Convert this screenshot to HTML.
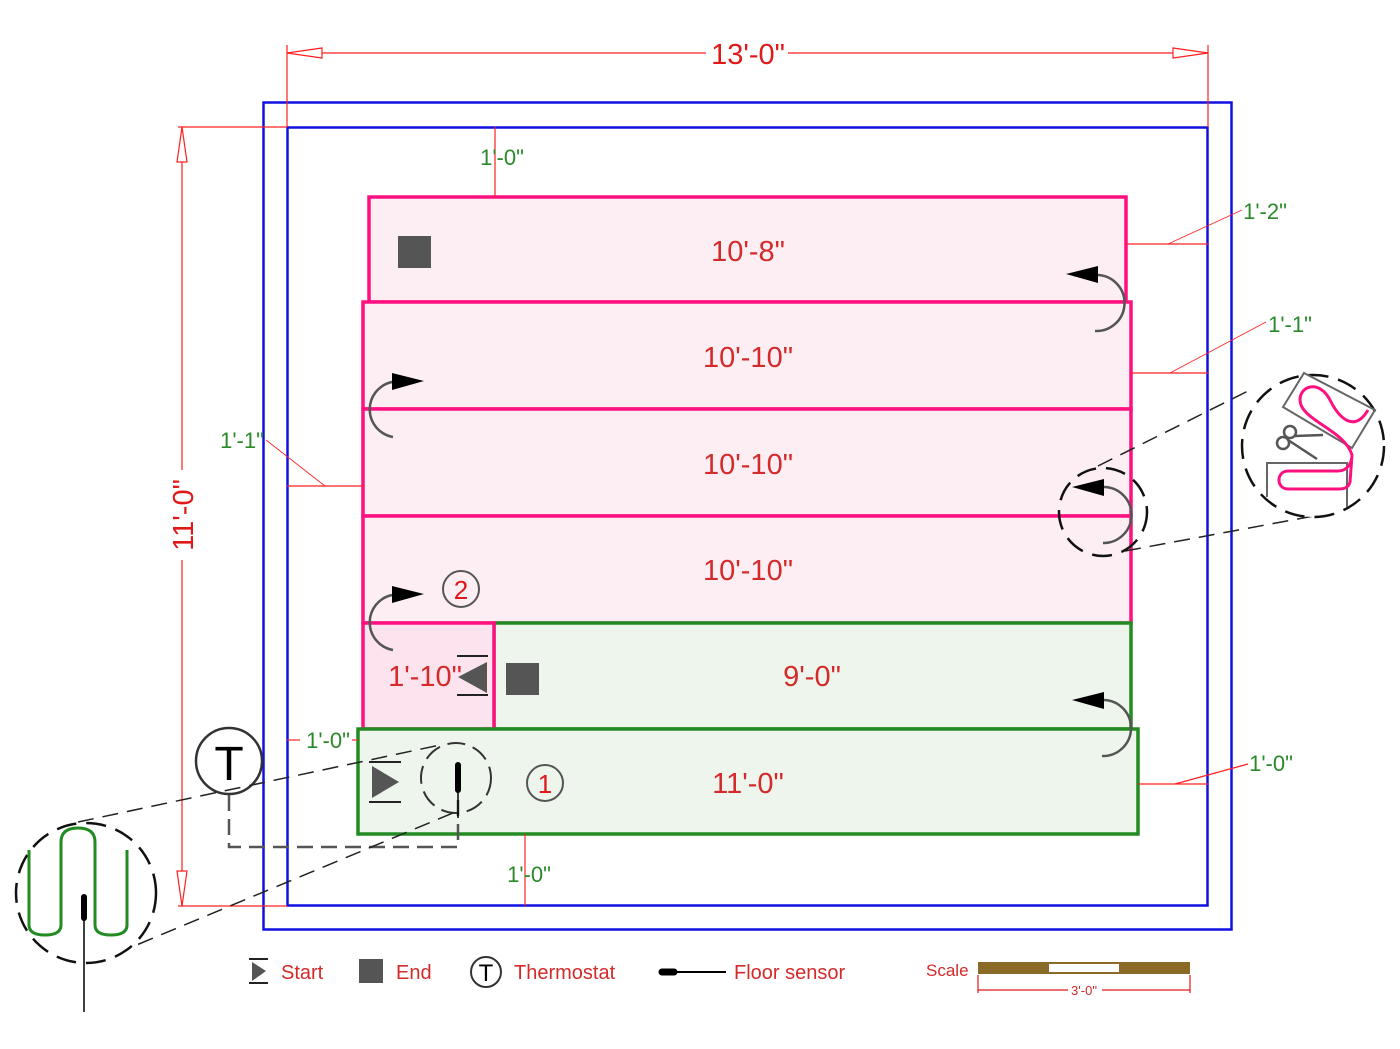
<!DOCTYPE html>
<html><head><meta charset="utf-8"><style>
html,body{margin:0;padding:0;background:#fff;}
svg{display:block;}
text{font-family:"Liberation Sans",Arial,sans-serif;}
</style></head><body>
<svg width="1400" height="1049" viewBox="0 0 1400 1049" xmlns="http://www.w3.org/2000/svg">
<rect width="1400" height="1049" fill="#fff"/>
<rect x="263.5" y="102.5" width="968" height="827" fill="none" stroke="#1010e0" stroke-width="2.5"/>
<rect x="287.5" y="127.5" width="920" height="778" fill="none" stroke="#1010e0" stroke-width="2.5"/>

<g stroke="#ff1080" stroke-width="3.5" fill="#fdeef4">
<rect x="369" y="197" width="757" height="105"/>
<rect x="363" y="302" width="768" height="107"/>
<rect x="363" y="409" width="768" height="107"/>
<rect x="363" y="516" width="768" height="107"/>
</g>
<rect x="494" y="623" width="637" height="106" fill="#eef5ec" stroke="#228b22" stroke-width="3.5"/>
<rect x="363" y="623" width="131" height="106" fill="#fde3ee" stroke="#ff1080" stroke-width="3.5"/>
<rect x="358" y="729" width="780" height="105" fill="#eef5ec" stroke="#228b22" stroke-width="3.5"/>

<g stroke="#ff2020" stroke-width="1.2" fill="none">
<line x1="287" y1="53" x2="1208" y2="53"/>
<line x1="287" y1="45" x2="287" y2="127"/>
<line x1="1208" y1="45" x2="1208" y2="127"/>
<polygon points="287,53 322,48 322,58" fill="#fff"/>
<polygon points="1208,53 1173,48 1173,58" fill="#fff"/>
<line x1="182" y1="127" x2="182" y2="906"/>
<line x1="178" y1="127" x2="287" y2="127"/>
<line x1="178" y1="906" x2="287" y2="906"/>
<polygon points="182,127 177,162 187,162" fill="#fff"/>
<polygon points="182,906 177,871 187,871" fill="#fff"/>
<line x1="495" y1="127" x2="495" y2="197"/>
<line x1="1126" y1="244" x2="1208" y2="244"/>
<line x1="1168" y1="244" x2="1242" y2="210" stroke-width="0.8"/>
<line x1="1131" y1="373" x2="1208" y2="373"/>
<line x1="1170" y1="373" x2="1266" y2="322" stroke-width="0.8"/>
<line x1="287" y1="486" x2="363" y2="486"/>
<line x1="325" y1="486" x2="266" y2="440" stroke-width="0.8"/>
<line x1="287" y1="740" x2="300" y2="740"/>
<line x1="352" y1="740" x2="358" y2="740"/>
<line x1="1138" y1="784" x2="1208" y2="784"/>
<line x1="1175" y1="784" x2="1248" y2="764"/>
<line x1="525" y1="834" x2="525" y2="906"/>
</g>
<rect x="706" y="38" width="82" height="30" fill="#fff"/>
<text x="748" y="64" font-size="29" fill="#e01818" text-anchor="middle">13'-0"</text>
<rect x="168" y="470" width="30" height="90" fill="#fff"/>
<text x="0" y="0" font-size="29" fill="#e01818" text-anchor="middle" transform="translate(193,515) rotate(-90)">11'-0"</text>

<g font-size="22" fill="#2a8a2a" text-anchor="middle">
<text x="502" y="165">1'-0"</text>
<text x="1265" y="219">1'-2"</text>
<text x="1290" y="332">1'-1"</text>
<text x="242" y="448">1'-1"</text>
<text x="328" y="748">1'-0"</text>
<text x="1271" y="771">1'-0"</text>
<text x="529" y="882">1'-0"</text>
</g>

<g font-size="29" fill="#d42a2a" text-anchor="middle">
<text x="748" y="261">10'-8"</text>
<text x="748" y="367">10'-10"</text>
<text x="748" y="474">10'-10"</text>
<text x="748" y="580">10'-10"</text>
<text x="812" y="686">9'-0"</text>
<text x="748" y="793">11'-0"</text>
<text x="425" y="686">1'-10"</text>
</g>

<rect x="398" y="236" width="33" height="32" fill="#555"/>
<rect x="506" y="663" width="33" height="32" fill="#555"/>
<polygon points="487,662 487,693 458,677" fill="#555"/>
<line x1="457" y1="656" x2="488" y2="656" stroke="#222" stroke-width="2"/>
<line x1="457" y1="695" x2="488" y2="695" stroke="#222" stroke-width="2"/>
<polygon points="372,766 372,798 399,782" fill="#555"/>
<line x1="369" y1="762" x2="401" y2="762" stroke="#222" stroke-width="2"/>
<line x1="369" y1="802" x2="401" y2="802" stroke="#222" stroke-width="2"/>

<g fill="none" stroke="#555" stroke-width="2.5">
<path d="M1095,331 A28,28 0 0 0 1098,275"/>
<path d="M393,437 A28,28 0 0 1 392,382"/>
<path d="M1103,543 A28,28 0 0 0 1104,487"/>
<path d="M393,650 A28,28 0 0 1 392,595"/>
<path d="M1102,756 A28,28 0 0 0 1104,700"/>
</g>
<g fill="#000">
<polygon points="1066,274 1098,266 1098,283"/>
<polygon points="424,381 392,373 392,390"/>
<polygon points="1072,487 1104,479 1104,496"/>
<polygon points="424,594 392,586 392,603"/>
<polygon points="1072,700 1104,692 1104,709"/>
</g>

<circle cx="461" cy="589" r="18" fill="none" stroke="#555" stroke-width="2"/>
<text x="461" y="599" font-size="26" fill="#e01818" text-anchor="middle">2</text>
<circle cx="545" cy="783" r="18" fill="none" stroke="#555" stroke-width="2"/>
<text x="545" y="793" font-size="26" fill="#e01818" text-anchor="middle">1</text>

<circle cx="229" cy="761" r="33" fill="#fff" stroke="#333" stroke-width="2.5"/>
<text x="229" y="780" font-size="48" fill="#000" text-anchor="middle">T</text>
<path d="M229,795 V847 H458 V800" fill="none" stroke="#555" stroke-width="2.5" stroke-dasharray="16,8"/>
<circle cx="456" cy="778" r="35" fill="none" stroke="#333" stroke-width="2" stroke-dasharray="18,8"/>
<line x1="458" y1="765" x2="458" y2="790" stroke="#000" stroke-width="6" stroke-linecap="round"/>
<line x1="458" y1="790" x2="458" y2="818" stroke="#000" stroke-width="1.5"/>

<g stroke="#222" stroke-width="1.5" fill="none" stroke-dasharray="16,9">
<line x1="78" y1="822" x2="440" y2="745"/>
<line x1="115" y1="954" x2="460" y2="810"/>
<line x1="1098" y1="466" x2="1250" y2="390"/>
<line x1="1125" y1="551" x2="1330" y2="513"/>
</g>
<circle cx="86" cy="893" r="70" fill="#fff" stroke="#111" stroke-width="2.5" stroke-dasharray="20,10"/>
<path d="M29,850 V925 Q29,935 45,935 Q61,935 61,925 V842 Q61,828 78,828 Q95,828 95,842 V925 Q95,935 111,935 Q127,935 127,925 V850" fill="none" stroke="#228b22" stroke-width="3"/>
<line x1="84" y1="897" x2="84" y2="918" stroke="#000" stroke-width="6" stroke-linecap="round"/>
<line x1="84" y1="918" x2="84" y2="1012" stroke="#000" stroke-width="1.5"/>

<circle cx="1103" cy="512" r="44" fill="none" stroke="#111" stroke-width="2.5" stroke-dasharray="20,10"/>
<circle cx="1313" cy="446" r="71" fill="#fff" stroke="#111" stroke-width="2.5" stroke-dasharray="20,10"/>
<path d="M1304,373 L1375,410 L1352,448 L1283,407 Z" fill="none" stroke="#666" stroke-width="2"/>
<path d="M1267,497 V463 H1347 V507" fill="none" stroke="#666" stroke-width="2"/>
<path d="M1368,410 C1355,432 1340,420 1330,400 C1320,380 1300,385 1300,400 C1300,420 1345,430 1352,455 L1350,482 C1348,490 1340,489 1335,489 L1288,489 C1276,489 1276,471 1288,471 L1338,471 C1348,471 1352,462 1352,455" fill="none" stroke="#ff1080" stroke-width="3"/>
<g stroke="#555" stroke-width="2.5" fill="none">
<circle cx="1283" cy="443" r="6"/>
<circle cx="1290" cy="432" r="6"/>
<line x1="1288" y1="440" x2="1317" y2="459"/>
<line x1="1295" y1="436" x2="1323" y2="435"/>
</g>

<polygon points="252,962 252,981 266,971" fill="#555"/>
<line x1="249" y1="959" x2="268" y2="959" stroke="#222" stroke-width="2"/>
<line x1="249" y1="983" x2="268" y2="983" stroke="#222" stroke-width="2"/>
<text x="281" y="979" font-size="20" fill="#d42a2a">Start</text>
<rect x="359" y="959" width="24" height="24" fill="#555"/>
<text x="396" y="979" font-size="20" fill="#d42a2a">End</text>
<circle cx="486" cy="972" r="15" fill="none" stroke="#333" stroke-width="2"/>
<text x="486" y="981" font-size="24" fill="#000" text-anchor="middle">T</text>
<text x="514" y="979" font-size="20" fill="#d42a2a">Thermostat</text>
<line x1="662" y1="972" x2="674" y2="972" stroke="#000" stroke-width="7" stroke-linecap="round"/>
<line x1="674" y1="972" x2="726" y2="972" stroke="#000" stroke-width="2"/>
<text x="734" y="979" font-size="20" fill="#d42a2a">Floor sensor</text>
<text x="926" y="976" font-size="17" fill="#d42a2a">Scale</text>
<rect x="978" y="962" width="212" height="12" fill="#8b6a28"/>
<rect x="1049" y="964" width="70" height="8" fill="#fff"/>
<g stroke="#e01818" stroke-width="1.2">
<line x1="978" y1="975" x2="978" y2="993"/>
<line x1="1190" y1="975" x2="1190" y2="993"/>
<line x1="978" y1="990" x2="1068" y2="990"/>
<line x1="1102" y1="990" x2="1190" y2="990"/>
</g>
<text x="1084" y="995" font-size="13" fill="#d42a2a" text-anchor="middle">3'-0"</text>
</svg>
</body></html>
